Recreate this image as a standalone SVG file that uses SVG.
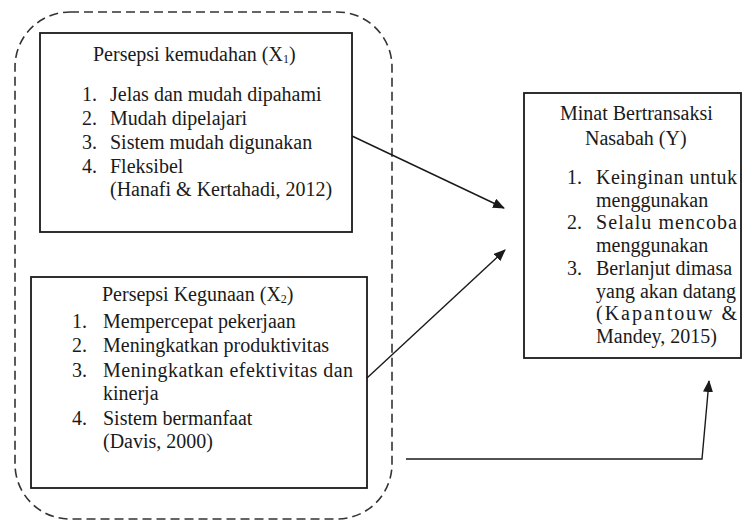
<svg xmlns="http://www.w3.org/2000/svg" width="742" height="523" viewBox="0 0 742 523">
<defs>
<style>
text{font-family:"Liberation Serif","Times New Roman",serif;font-size:20px;fill:#1a1a1a}
.box{fill:#fff;stroke:#1a1a1a;stroke-width:1.8}
.group{fill:none;stroke:#333;stroke-width:1.6;stroke-dasharray:9 5}
.conn{fill:none;stroke:#1a1a1a;stroke-width:1.4}
.sub{font-size:12px}
</style>
<marker id="arr" markerUnits="userSpaceOnUse" markerWidth="12" markerHeight="10" refX="11" refY="5" orient="auto">
<path d="M0,0 L12,5 L0,10 Z" fill="#1a1a1a"/>
</marker>
</defs>
<rect width="742" height="523" fill="#fff"/>
<g id="group-x">
<rect class="group" x="15" y="12" width="377" height="507" rx="55" ry="55"/>
</g>
<g id="x1">
<rect class="box" x="40" y="33" width="312" height="199"/>
<text x="93" y="61">Persepsi kemudahan (X<tspan class="sub" dy="2">1</tspan><tspan dy="-2">)</tspan></text>
<text x="82" y="101">1.</text><text x="110" y="101">Jelas dan mudah dipahami</text>
<text x="82" y="125">2.</text><text x="110" y="125">Mudah dipelajari</text>
<text x="82" y="149">3.</text><text x="110" y="149">Sistem mudah digunakan</text>
<text x="82" y="173">4.</text><text x="110" y="173">Fleksibel</text>
<text x="110" y="196">(Hanafi &amp; Kertahadi, 2012)</text>
</g>
<g id="x2">
<rect class="box" x="31" y="277" width="336" height="211"/>
<text x="102" y="301">Persepsi Kegunaan (X<tspan class="sub" dy="2">2</tspan><tspan dy="-2">)</tspan></text>
<text x="72" y="328">1.</text><text x="103" y="328">Mempercepat pekerjaan</text>
<text x="72" y="352">2.</text><text x="103" y="352">Meningkatkan produktivitas</text>
<text x="72" y="377">3.</text><text x="103" y="377" textLength="250" lengthAdjust="spacing">Meningkatkan efektivitas dan</text>
<text x="103" y="400">kinerja</text>
<text x="72" y="425">4.</text><text x="103" y="425">Sistem bermanfaat</text>
<text x="103" y="448">(Davis, 2000)</text>
</g>
<g id="y">
<rect class="box" x="524" y="93" width="217" height="265"/>
<text x="560" y="120">Minat Bertransaksi</text>
<text x="585" y="145">Nasabah (Y)</text>
<text x="567" y="184">1.</text><text x="596" y="184" textLength="141" lengthAdjust="spacing">Keinginan untuk</text>
<text x="596" y="206.7">menggunakan</text>
<text x="567" y="229.4">2.</text><text x="596" y="229.4" textLength="141" lengthAdjust="spacing">Selalu mencoba</text>
<text x="596" y="252.1">menggunakan</text>
<text x="567" y="274.8">3.</text><text x="596" y="274.8">Berlanjut dimasa</text>
<text x="596" y="297.5">yang akan datang</text>
<text x="596" y="320.2" textLength="141" lengthAdjust="spacing">(Kapantouw &amp;</text>
<text x="596" y="342.9">Mandey, 2015)</text>
</g>
<g id="connectors">
<line class="conn" x1="352" y1="136" x2="504" y2="208" marker-end="url(#arr)"/>
<line class="conn" x1="367" y1="378" x2="505" y2="250" marker-end="url(#arr)"/>
<polyline class="conn" points="406,459 702,459 709,381" marker-end="url(#arr)"/>
</g>
</svg>
